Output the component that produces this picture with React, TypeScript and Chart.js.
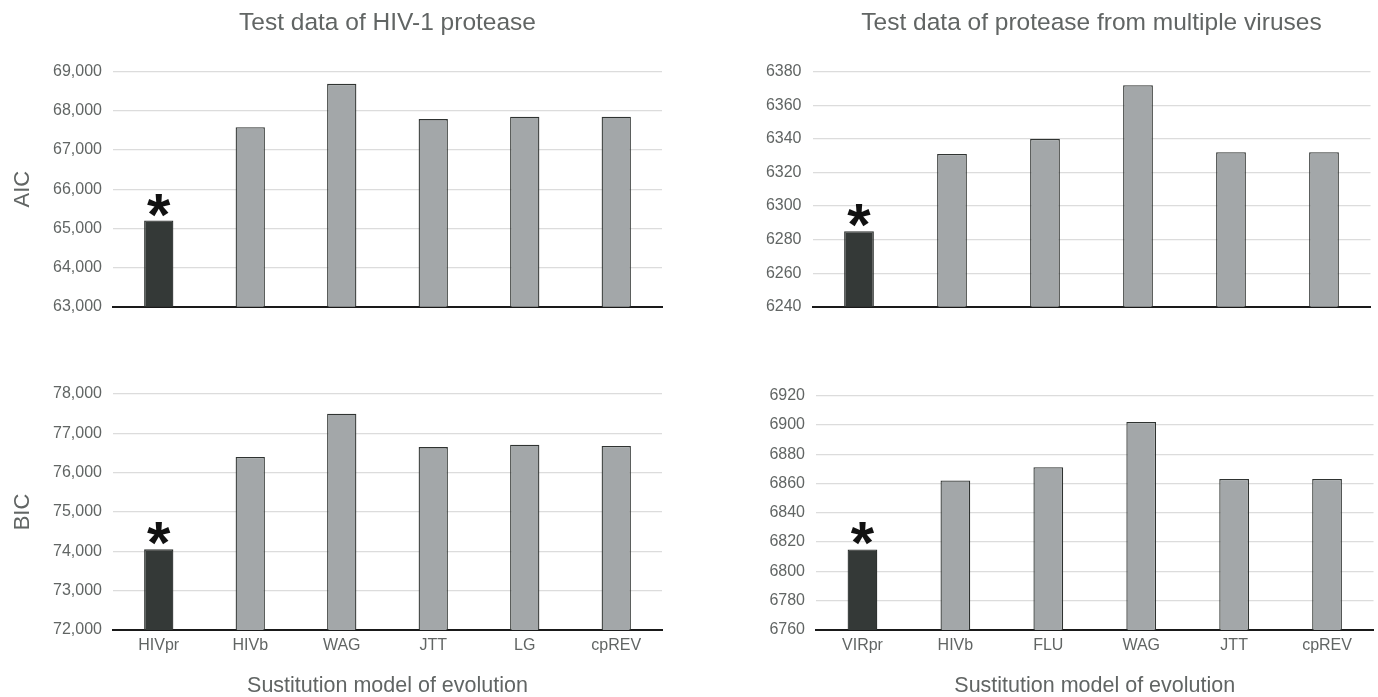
import React, { useEffect, useRef } from 'react';
import { Chart, registerables } from 'chart.js';

Chart.register(...registerables);

// ---- data ----
const hivModels = ['HIVpr', 'HIVb', 'WAG', 'JTT', 'LG', 'cpREV'];
const virModels = ['VIRpr', 'HIVb', 'FLU', 'WAG', 'JTT', 'cpREV'];

const hivAIC = [65200, 67580, 68690, 67790, 67850, 67850];
const hivBIC = [74050, 76400, 77500, 76650, 76710, 76680];
const virAIC = [6285, 6331, 6340, 6372, 6332, 6332];
const virBIC = [6815, 6862, 6871, 6902, 6863, 6863];

const hivAICTicks = [63000, 64000, 65000, 66000, 67000, 68000, 69000];
const hivBICTicks = [72000, 73000, 74000, 75000, 76000, 77000, 78000];
const virAICTicks = [6240, 6260, 6280, 6300, 6320, 6340, 6360, 6380];
const virBICTicks = [6760, 6780, 6800, 6820, 6840, 6860, 6880, 6900, 6920];

const titleHIV = 'Test data of HIV-1 protease';
const titleVIR = 'Test data of protease from multiple viruses';
const xAxisTitle = 'Sustitution model of evolution';
const bestMarker = '*';
const bestIndex = 0;

// ---- style ----
const FONT = '"Liberation Sans", Arial, Helvetica, sans-serif';
const TEXT = '#616564';
const DARK = '#343937';
const GRAY = '#a3a7a9';

const starPlugin = {
  id: 'bestStar',
  afterDatasetsDraw(chart: any) {
    const bar = chart.getDatasetMeta(0).data[bestIndex];
    if (!bar) return;
    const ctx = chart.ctx;
    ctx.save();
    ctx.font = `bold 60px ${FONT}`;
    ctx.fillStyle = '#111111';
    ctx.textAlign = 'center';
    ctx.textBaseline = 'alphabetic';
    const m = ctx.measureText(bestMarker);
    ctx.fillText(bestMarker, bar.x, bar.y - 4 - m.actualBoundingBoxDescent);
    ctx.restore();
  },
};

type Cfg = {
  labels: string[];
  values: number[];
  ticks: number[];
  comma: boolean;
  title?: string;
  yTitle?: string;
  xTitle?: string;
  showX: boolean;
  yWidth: number;
  xHeight: number;
  padTop: number;
  padRight: number;
};

function makeChart(canvas: HTMLCanvasElement, c: Cfg) {
  const colors = c.values.map((_, i) => (i === bestIndex ? DARK : GRAY));
  return new Chart(canvas, {
    type: 'bar',
    data: {
      labels: c.labels,
      datasets: [
        {
          data: c.values,
          backgroundColor: colors,
          borderColor: '#2f3331',
          borderWidth: 1.3,
          barPercentage: 0.32,
          categoryPercentage: 1,
        },
      ],
    },
    plugins: [starPlugin],
    options: {
      animation: false,
      responsive: false,
      maintainAspectRatio: false,
      layout: { padding: { top: c.padTop, right: c.padRight, left: 0, bottom: 0 } },
      plugins: {
        legend: { display: false },
        tooltip: { enabled: false },
        title: c.title
          ? {
              display: true,
              fullSize: false,
              text: c.title,
              color: TEXT,
              font: { family: FONT, size: 24.5, weight: 'normal', lineHeight: 1.2 },
              padding: { top: 8.3, bottom: 34 },
            }
          : { display: false },
      },
      scales: {
        x: {
          grid: { display: false, drawTicks: false },
          border: { display: true, color: '#1a1a1a', width: 2 },
          ticks: {
            display: c.showX,
            color: TEXT,
            padding: 6,
            font: { family: FONT, size: 16 },
          },
          title: c.xTitle
            ? {
                display: true,
                text: c.xTitle,
                color: TEXT,
                font: { family: FONT, size: 21.5, lineHeight: 1 },
                padding: 0,
              }
            : { display: false },
          afterFit: (s: any) => {
            s.height = c.xHeight;
          },
        },
        y: {
          min: c.ticks[0],
          max: c.ticks[c.ticks.length - 1],
          afterBuildTicks: (s: any) => {
            s.ticks = c.ticks.map((v) => ({ value: v }));
          },
          grid: { color: '#dcdcdc', lineWidth: 1.2, drawTicks: false },
          border: { display: false },
          ticks: {
            color: TEXT,
            padding: 11,
            font: { family: FONT, size: 16 },
            callback: (v: any) => (c.comma ? Number(v).toLocaleString('en-US') : String(v)),
          },
          title: c.yTitle
            ? {
                display: true,
                text: c.yTitle,
                color: TEXT,
                font: { family: FONT, size: 22, lineHeight: 1.2 },
                padding: { top: 10, bottom: 0 },
              }
            : { display: false },
          afterFit: (s: any) => {
            s.width = c.yWidth;
          },
        },
      },
    } as any,
  });
}

export default function App() {
  const r1 = useRef<HTMLCanvasElement>(null);
  const r2 = useRef<HTMLCanvasElement>(null);
  const r3 = useRef<HTMLCanvasElement>(null);
  const r4 = useRef<HTMLCanvasElement>(null);

  useEffect(() => {
    const charts = [
      makeChart(r1.current!, {
        labels: hivModels,
        values: hivAIC,
        ticks: hivAICTicks,
        comma: true,
        title: titleHIV,
        yTitle: 'AIC',
        showX: false,
        yWidth: 113,
        xHeight: 33.3,
        padTop: 0,
        padRight: 27,
      }),
      makeChart(r2.current!, {
        labels: virModels,
        values: virAIC,
        ticks: virAICTicks,
        comma: false,
        title: titleVIR,
        showX: false,
        yWidth: 123.5,
        xHeight: 33.3,
        padTop: 0,
        padRight: 7.5,
      }),
      makeChart(r3.current!, {
        labels: hivModels,
        values: hivBIC,
        ticks: hivBICTicks,
        comma: true,
        yTitle: 'BIC',
        xTitle: xAxisTitle,
        showX: true,
        yWidth: 113,
        xHeight: 67,
        padTop: 54,
        padRight: 27,
      }),
      makeChart(r4.current!, {
        labels: virModels,
        values: virBIC,
        ticks: virBICTicks,
        comma: false,
        xTitle: xAxisTitle,
        showX: true,
        yWidth: 127,
        xHeight: 67,
        padTop: 55.5,
        padRight: 4.5,
      }),
    ];
    return () => charts.forEach((ch) => ch.destroy());
  }, []);

  const box: React.CSSProperties = { position: 'absolute', display: 'block' };
  return (
    <div style={{ position: 'absolute', left: 0, top: 0, width: 1378, height: 697, background: '#fff', overflow: 'hidden' }}>
      <canvas ref={r1} width={689} height={340} style={{ ...box, left: 0, top: 0, width: 689, height: 340 }} />
      <canvas ref={r2} width={689} height={340} style={{ ...box, left: 689, top: 0, width: 689, height: 340 }} />
      <canvas ref={r3} width={689} height={357} style={{ ...box, left: 0, top: 340, width: 689, height: 357 }} />
      <canvas ref={r4} width={689} height={357} style={{ ...box, left: 689, top: 340, width: 689, height: 357 }} />
    </div>
  );
}
